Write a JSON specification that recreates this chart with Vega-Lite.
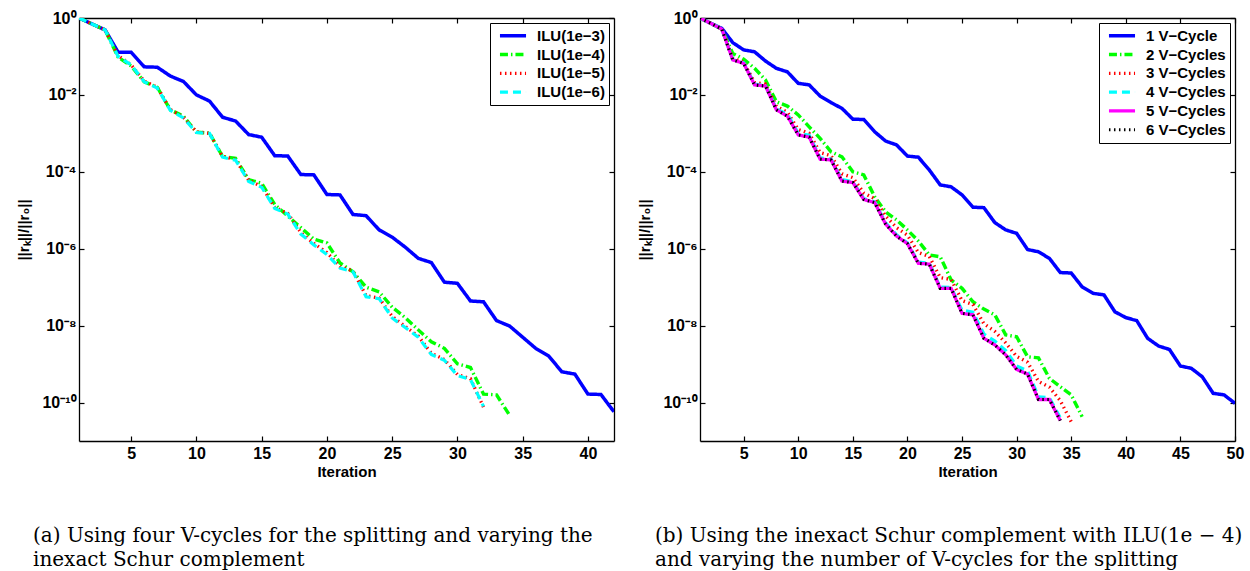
{
  "$schema": "https://vega.github.io/schema/vega-lite/v6.json",
  "background": "white",
  "autosize": {"type": "pad"},
  "padding": {"left": 16, "top": 10, "right": 5, "bottom": 5},
  "spacing": 86,
  "bounds": "flush",
  "resolve": {
    "scale": {"color": "independent", "strokeDash": "independent", "strokeWidth": "independent", "x": "independent", "y": "independent"},
    "legend": {"color": "independent", "strokeDash": "independent", "strokeWidth": "independent"}
  },
  "config": {
    "view": {"stroke": null},
    "font": "Liberation Sans",
    "axis": {
      "labelFont": "Liberation Sans", "labelFontWeight": "bold", "labelFontSize": 16, "labelColor": "black",
      "titleFont": "Liberation Sans", "titleFontWeight": "bold", "titleFontSize": 15, "titleColor": "black",
      "domainColor": "black", "domainWidth": 1.3, "tickColor": "black", "tickWidth": 1.2, "tickSize": -5,
      "grid": false, "labelFlush": false
    },
    "legend": {
      "orient": "top-right", "offset": 5, "title": null, "strokeColor": "black", "fillColor": "white",
      "padding": 4, "labelFont": "Liberation Sans", "labelFontWeight": "bold", "labelFontSize": 15,
      "labelColor": "black", "symbolType": "stroke", "symbolSize": 680, "rowPadding": 0.8, "labelOffset": 9,
      "clipHeight": 17.5, "symbolOffset": 4, "cornerRadius": 0
    },
    "title": {
      "font": "DejaVu Serif", "fontSize": 20, "fontWeight": "normal", "color": "black",
      "anchor": "start", "orient": "bottom", "frame": "group", "lineHeight": 23.5, "offset": 47
    }
  },
  "hconcat": [
    {
      "width": 535, "height": 423,
      "title": {"text": ["(a) Using four V-cycles for the splitting and varying the", "inexact Schur complement"], "dx": -46},
      "data": {"values": [
        {"series":"ILU(1e−3)","iter":1,"res":1},{"series":"ILU(1e−3)","iter":2,"res":0.70},{"series":"ILU(1e−3)","iter":3,"res":0.49},{"series":"ILU(1e−3)","iter":4,"res":0.129},{"series":"ILU(1e−3)","iter":5,"res":0.128},{"series":"ILU(1e−3)","iter":6,"res":0.0537},{"series":"ILU(1e−3)","iter":7,"res":0.0525},{"series":"ILU(1e−3)","iter":8,"res":0.0309},{"series":"ILU(1e−3)","iter":9,"res":0.0224},{"series":"ILU(1e−3)","iter":10,"res":0.0100},{"series":"ILU(1e−3)","iter":11,"res":0.00692},{"series":"ILU(1e−3)","iter":12,"res":0.00263},{"series":"ILU(1e−3)","iter":13,"res":0.00209},{"series":"ILU(1e−3)","iter":14,"res":0.000933},{"series":"ILU(1e−3)","iter":15,"res":0.000794},{"series":"ILU(1e−3)","iter":16,"res":0.000263},{"series":"ILU(1e−3)","iter":17,"res":0.000257},{"series":"ILU(1e−3)","iter":18,"res":8.51e-5},{"series":"ILU(1e−3)","iter":19,"res":8.32e-5},{"series":"ILU(1e−3)","iter":20,"res":2.57e-5},{"series":"ILU(1e−3)","iter":21,"res":2.51e-5},{"series":"ILU(1e−3)","iter":22,"res":7.76e-6},{"series":"ILU(1e−3)","iter":23,"res":7.24e-6},{"series":"ILU(1e−3)","iter":24,"res":3.09e-6},{"series":"ILU(1e−3)","iter":25,"res":2.00e-6},{"series":"ILU(1e−3)","iter":26,"res":1.10e-6},{"series":"ILU(1e−3)","iter":27,"res":5.62e-7},{"series":"ILU(1e−3)","iter":28,"res":4.37e-7},{"series":"ILU(1e−3)","iter":29,"res":1.35e-7},{"series":"ILU(1e−3)","iter":30,"res":1.26e-7},{"series":"ILU(1e−3)","iter":31,"res":4.37e-8},{"series":"ILU(1e−3)","iter":32,"res":4.17e-8},{"series":"ILU(1e−3)","iter":33,"res":1.35e-8},{"series":"ILU(1e−3)","iter":34,"res":9.77e-9},{"series":"ILU(1e−3)","iter":35,"res":5.01e-9},{"series":"ILU(1e−3)","iter":36,"res":2.57e-9},{"series":"ILU(1e−3)","iter":37,"res":1.62e-9},{"series":"ILU(1e−3)","iter":38,"res":6.31e-10},{"series":"ILU(1e−3)","iter":39,"res":5.50e-10},{"series":"ILU(1e−3)","iter":40,"res":1.66e-10},{"series":"ILU(1e−3)","iter":41,"res":1.62e-10},{"series":"ILU(1e−3)","iter":42,"res":5.75e-11},
        {"series":"ILU(1e−4)","iter":1,"res":1},{"series":"ILU(1e−4)","iter":2,"res":0.70},{"series":"ILU(1e−4)","iter":3,"res":0.49},{"series":"ILU(1e−4)","iter":4,"res":0.0955},{"series":"ILU(1e−4)","iter":5,"res":0.0562},{"series":"ILU(1e−4)","iter":6,"res":0.0219},{"series":"ILU(1e−4)","iter":7,"res":0.0158},{"series":"ILU(1e−4)","iter":8,"res":0.00407},{"series":"ILU(1e−4)","iter":9,"res":0.00282},{"series":"ILU(1e−4)","iter":10,"res":0.00107},{"series":"ILU(1e−4)","iter":11,"res":0.00102},{"series":"ILU(1e−4)","iter":12,"res":0.000251},{"series":"ILU(1e−4)","iter":13,"res":0.000224},{"series":"ILU(1e−4)","iter":14,"res":6.31e-5},{"series":"ILU(1e−4)","iter":15,"res":5.01e-5},{"series":"ILU(1e−4)","iter":16,"res":1.41e-5},{"series":"ILU(1e−4)","iter":17,"res":7.08e-6},{"series":"ILU(1e−4)","iter":18,"res":3.55e-6},{"series":"ILU(1e−4)","iter":19,"res":1.78e-6},{"series":"ILU(1e−4)","iter":20,"res":1.41e-6},{"series":"ILU(1e−4)","iter":21,"res":4.27e-7},{"series":"ILU(1e−4)","iter":22,"res":2.51e-7},{"series":"ILU(1e−4)","iter":23,"res":1.00e-7},{"series":"ILU(1e−4)","iter":24,"res":7.59e-8},{"series":"ILU(1e−4)","iter":25,"res":3.02e-8},{"series":"ILU(1e−4)","iter":26,"res":1.62e-8},{"series":"ILU(1e−4)","iter":27,"res":7.76e-9},{"series":"ILU(1e−4)","iter":28,"res":3.80e-9},{"series":"ILU(1e−4)","iter":29,"res":2.57e-9},{"series":"ILU(1e−4)","iter":30,"res":1.02e-9},{"series":"ILU(1e−4)","iter":31,"res":8.13e-10},{"series":"ILU(1e−4)","iter":32,"res":1.66e-10},{"series":"ILU(1e−4)","iter":33,"res":1.58e-10},{"series":"ILU(1e−4)","iter":34,"res":4.68e-11},
        {"series":"ILU(1e−5)","iter":1,"res":1},{"series":"ILU(1e−5)","iter":2,"res":0.70},{"series":"ILU(1e−5)","iter":3,"res":0.49},{"series":"ILU(1e−5)","iter":4,"res":0.105},{"series":"ILU(1e−5)","iter":5,"res":0.0603},{"series":"ILU(1e−5)","iter":6,"res":0.0229},{"series":"ILU(1e−5)","iter":7,"res":0.0158},{"series":"ILU(1e−5)","iter":8,"res":0.00417},{"series":"ILU(1e−5)","iter":9,"res":0.00263},{"series":"ILU(1e−5)","iter":10,"res":0.00110},{"series":"ILU(1e−5)","iter":11,"res":0.00100},{"series":"ILU(1e−5)","iter":12,"res":0.000251},{"series":"ILU(1e−5)","iter":13,"res":0.000209},{"series":"ILU(1e−5)","iter":14,"res":6.03e-5},{"series":"ILU(1e−5)","iter":15,"res":4.17e-5},{"series":"ILU(1e−5)","iter":16,"res":1.20e-5},{"series":"ILU(1e−5)","iter":17,"res":8.32e-6},{"series":"ILU(1e−5)","iter":18,"res":2.63e-6},{"series":"ILU(1e−5)","iter":19,"res":1.38e-6},{"series":"ILU(1e−5)","iter":20,"res":7.94e-7},{"series":"ILU(1e−5)","iter":21,"res":3.47e-7},{"series":"ILU(1e−5)","iter":22,"res":2.63e-7},{"series":"ILU(1e−5)","iter":23,"res":6.03e-8},{"series":"ILU(1e−5)","iter":24,"res":5.25e-8},{"series":"ILU(1e−5)","iter":25,"res":1.74e-8},{"series":"ILU(1e−5)","iter":26,"res":9.55e-9},{"series":"ILU(1e−5)","iter":27,"res":5.37e-9},{"series":"ILU(1e−5)","iter":28,"res":1.91e-9},{"series":"ILU(1e−5)","iter":29,"res":1.32e-9},{"series":"ILU(1e−5)","iter":30,"res":5.37e-10},{"series":"ILU(1e−5)","iter":31,"res":4.17e-10},{"series":"ILU(1e−5)","iter":32,"res":7.59e-11},
        {"series":"ILU(1e−6)","iter":1,"res":1},{"series":"ILU(1e−6)","iter":2,"res":0.70},{"series":"ILU(1e−6)","iter":3,"res":0.49},{"series":"ILU(1e−6)","iter":4,"res":0.100},{"series":"ILU(1e−6)","iter":5,"res":0.0603},{"series":"ILU(1e−6)","iter":6,"res":0.0219},{"series":"ILU(1e−6)","iter":7,"res":0.0151},{"series":"ILU(1e−6)","iter":8,"res":0.00398},{"series":"ILU(1e−6)","iter":9,"res":0.00251},{"series":"ILU(1e−6)","iter":10,"res":0.00105},{"series":"ILU(1e−6)","iter":11,"res":0.00100},{"series":"ILU(1e−6)","iter":12,"res":0.000240},{"series":"ILU(1e−6)","iter":13,"res":0.000200},{"series":"ILU(1e−6)","iter":14,"res":5.62e-5},{"series":"ILU(1e−6)","iter":15,"res":3.98e-5},{"series":"ILU(1e−6)","iter":16,"res":1.12e-5},{"series":"ILU(1e−6)","iter":17,"res":7.94e-6},{"series":"ILU(1e−6)","iter":18,"res":2.40e-6},{"series":"ILU(1e−6)","iter":19,"res":1.26e-6},{"series":"ILU(1e−6)","iter":20,"res":7.08e-7},{"series":"ILU(1e−6)","iter":21,"res":3.16e-7},{"series":"ILU(1e−6)","iter":22,"res":2.51e-7},{"series":"ILU(1e−6)","iter":23,"res":5.62e-8},{"series":"ILU(1e−6)","iter":24,"res":5.01e-8},{"series":"ILU(1e−6)","iter":25,"res":1.58e-8},{"series":"ILU(1e−6)","iter":26,"res":8.91e-9},{"series":"ILU(1e−6)","iter":27,"res":5.01e-9},{"series":"ILU(1e−6)","iter":28,"res":1.78e-9},{"series":"ILU(1e−6)","iter":29,"res":1.26e-9},{"series":"ILU(1e−6)","iter":30,"res":5.01e-10},{"series":"ILU(1e−6)","iter":31,"res":3.98e-10},{"series":"ILU(1e−6)","iter":32,"res":7.94e-11}
      ]},
      "layer": [
        {
          "mark": {"type": "line", "clip": true},
          "encoding": {
            "x": {"field": "iter", "type": "quantitative", "scale": {"domain": [1, 42], "nice": false, "zero": false},
                  "axis": {"orient": "bottom", "title": "Iteration", "values": [5,10,15,20,25,30,35,40], "labelPadding": 9, "titlePadding": 3}},
            "y": {"field": "res", "type": "quantitative", "scale": {"type": "log", "domain": [1e-11, 1], "nice": false},
                  "axis": {"orient": "left", "title": "||rₖ||/||r₀||", "values": [1, 0.01, 0.0001, 1e-6, 1e-8, 1e-10], "labelPadding": 8, "titlePadding": 10,
                           "labelExpr": "datum.value > 0.5 ? '10⁰' : datum.value > 5e-3 ? '10⁻²' : datum.value > 5e-5 ? '10⁻⁴' : datum.value > 5e-7 ? '10⁻⁶' : datum.value > 5e-9 ? '10⁻⁸' : '10⁻¹⁰'"}},
            "color": {"field": "series", "type": "nominal", "scale": {"domain": ["ILU(1e−3)","ILU(1e−4)","ILU(1e−5)","ILU(1e−6)"], "range": ["#0000ff","#00ff00","#ff0000","#00ffff"]}},
            "strokeDash": {"field": "series", "type": "nominal", "scale": {"domain": ["ILU(1e−3)","ILU(1e−4)","ILU(1e−5)","ILU(1e−6)"], "range": [[1,0],[8,3,1.5,3],[1.5,3.5],[8,5]]}},
            "strokeWidth": {"field": "series", "type": "nominal", "scale": {"domain": ["ILU(1e−3)","ILU(1e−4)","ILU(1e−5)","ILU(1e−6)"], "range": [3.5,3.2,1.4,3.5]}}
          }
        },
        {
          "mark": {"type": "point", "opacity": 0},
          "encoding": {
            "x": {"field": "iter", "type": "quantitative", "scale": {"domain": [1, 42], "nice": false, "zero": false},
                  "axis": {"orient": "top", "title": null, "labels": false, "values": [5,10,15,20,25,30,35,40]}},
            "y": {"field": "res", "type": "quantitative", "scale": {"type": "log", "domain": [1e-11, 1], "nice": false},
                  "axis": {"orient": "right", "title": null, "labels": false, "values": [1, 0.01, 0.0001, 1e-6, 1e-8, 1e-10]}}
          }
        }
      ],
      "resolve": {"axis": {"x": "independent", "y": "independent"}}
    },
    {
      "width": 535, "height": 423,
      "title": {"text": ["(b) Using the inexact Schur complement with ILU(1e − 4)", "and varying the number of V-cycles for the splitting"], "dx": -45},
      "data": {"values": [
        {"series":"1 V−Cycle","iter":1,"res":1},{"series":"1 V−Cycle","iter":2,"res":0.724},{"series":"1 V−Cycle","iter":3,"res":0.537},{"series":"1 V−Cycle","iter":4,"res":0.229},{"series":"1 V−Cycle","iter":5,"res":0.148},{"series":"1 V−Cycle","iter":6,"res":0.132},{"series":"1 V−Cycle","iter":7,"res":0.0759},{"series":"1 V−Cycle","iter":8,"res":0.0490},{"series":"1 V−Cycle","iter":9,"res":0.0398},{"series":"1 V−Cycle","iter":10,"res":0.0200},{"series":"1 V−Cycle","iter":11,"res":0.0182},{"series":"1 V−Cycle","iter":12,"res":0.00933},{"series":"1 V−Cycle","iter":13,"res":0.00631},{"series":"1 V−Cycle","iter":14,"res":0.00447},{"series":"1 V−Cycle","iter":15,"res":0.00234},{"series":"1 V−Cycle","iter":16,"res":0.00229},{"series":"1 V−Cycle","iter":17,"res":0.00110},{"series":"1 V−Cycle","iter":18,"res":0.000631},{"series":"1 V−Cycle","iter":19,"res":0.000501},{"series":"1 V−Cycle","iter":20,"res":0.000257},{"series":"1 V−Cycle","iter":21,"res":0.000240},{"series":"1 V−Cycle","iter":22,"res":0.000112},{"series":"1 V−Cycle","iter":23,"res":4.57e-5},{"series":"1 V−Cycle","iter":24,"res":4.07e-5},{"series":"1 V−Cycle","iter":25,"res":2.51e-5},{"series":"1 V−Cycle","iter":26,"res":1.20e-5},{"series":"1 V−Cycle","iter":27,"res":1.17e-5},{"series":"1 V−Cycle","iter":28,"res":4.79e-6},{"series":"1 V−Cycle","iter":29,"res":3.09e-6},{"series":"1 V−Cycle","iter":30,"res":2.51e-6},{"series":"1 V−Cycle","iter":31,"res":9.55e-7},{"series":"1 V−Cycle","iter":32,"res":8.32e-7},{"series":"1 V−Cycle","iter":33,"res":5.62e-7},{"series":"1 V−Cycle","iter":34,"res":2.40e-7},{"series":"1 V−Cycle","iter":35,"res":2.34e-7},{"series":"1 V−Cycle","iter":36,"res":1.02e-7},{"series":"1 V−Cycle","iter":37,"res":6.92e-8},{"series":"1 V−Cycle","iter":38,"res":6.31e-8},{"series":"1 V−Cycle","iter":39,"res":2.29e-8},{"series":"1 V−Cycle","iter":40,"res":1.62e-8},{"series":"1 V−Cycle","iter":41,"res":1.35e-8},{"series":"1 V−Cycle","iter":42,"res":4.68e-9},{"series":"1 V−Cycle","iter":43,"res":2.95e-9},{"series":"1 V−Cycle","iter":44,"res":2.40e-9},{"series":"1 V−Cycle","iter":45,"res":8.91e-10},{"series":"1 V−Cycle","iter":46,"res":7.76e-10},{"series":"1 V−Cycle","iter":47,"res":4.68e-10},{"series":"1 V−Cycle","iter":48,"res":1.74e-10},{"series":"1 V−Cycle","iter":49,"res":1.58e-10},{"series":"1 V−Cycle","iter":50,"res":9.55e-11},
        {"series":"2 V−Cycles","iter":1,"res":1},{"series":"2 V−Cycles","iter":2,"res":0.724},{"series":"2 V−Cycles","iter":3,"res":0.513},{"series":"2 V−Cycles","iter":4,"res":0.120},{"series":"2 V−Cycles","iter":5,"res":0.0851},{"series":"2 V−Cycles","iter":6,"res":0.0490},{"series":"2 V−Cycles","iter":7,"res":0.0245},{"series":"2 V−Cycles","iter":8,"res":0.00661},{"series":"2 V−Cycles","iter":9,"res":0.00513},{"series":"2 V−Cycles","iter":10,"res":0.00302},{"series":"2 V−Cycles","iter":11,"res":0.00148},{"series":"2 V−Cycles","iter":12,"res":0.000741},{"series":"2 V−Cycles","iter":13,"res":0.000331},{"series":"2 V−Cycles","iter":14,"res":0.000245},{"series":"2 V−Cycles","iter":15,"res":0.000100},{"series":"2 V−Cycles","iter":16,"res":8.32e-5},{"series":"2 V−Cycles","iter":17,"res":2.24e-5},{"series":"2 V−Cycles","iter":18,"res":9.12e-6},{"series":"2 V−Cycles","iter":19,"res":5.62e-6},{"series":"2 V−Cycles","iter":20,"res":3.09e-6},{"series":"2 V−Cycles","iter":21,"res":1.58e-6},{"series":"2 V−Cycles","iter":22,"res":6.92e-7},{"series":"2 V−Cycles","iter":23,"res":6.17e-7},{"series":"2 V−Cycles","iter":24,"res":1.55e-7},{"series":"2 V−Cycles","iter":25,"res":9.33e-8},{"series":"2 V−Cycles","iter":26,"res":4.17e-8},{"series":"2 V−Cycles","iter":27,"res":2.69e-8},{"series":"2 V−Cycles","iter":28,"res":1.91e-8},{"series":"2 V−Cycles","iter":29,"res":5.75e-9},{"series":"2 V−Cycles","iter":30,"res":5.13e-9},{"series":"2 V−Cycles","iter":31,"res":1.55e-9},{"series":"2 V−Cycles","iter":32,"res":1.45e-9},{"series":"2 V−Cycles","iter":33,"res":4.27e-10},{"series":"2 V−Cycles","iter":34,"res":2.57e-10},{"series":"2 V−Cycles","iter":35,"res":1.58e-10},{"series":"2 V−Cycles","iter":36,"res":4.27e-11},
        {"series":"3 V−Cycles","iter":1,"res":1},{"series":"3 V−Cycles","iter":2,"res":0.724},{"series":"3 V−Cycles","iter":3,"res":0.513},{"series":"3 V−Cycles","iter":4,"res":0.0891},{"series":"3 V−Cycles","iter":5,"res":0.0708},{"series":"3 V−Cycles","iter":6,"res":0.0209},{"series":"3 V−Cycles","iter":7,"res":0.0191},{"series":"3 V−Cycles","iter":8,"res":0.00501},{"series":"3 V−Cycles","iter":9,"res":0.00355},{"series":"3 V−Cycles","iter":10,"res":0.00126},{"series":"3 V−Cycles","iter":11,"res":0.00100},{"series":"3 V−Cycles","iter":12,"res":0.000316},{"series":"3 V−Cycles","iter":13,"res":0.000263},{"series":"3 V−Cycles","iter":14,"res":8.91e-5},{"series":"3 V−Cycles","iter":15,"res":7.08e-5},{"series":"3 V−Cycles","iter":16,"res":2.82e-5},{"series":"3 V−Cycles","iter":17,"res":2.00e-5},{"series":"3 V−Cycles","iter":18,"res":7.08e-6},{"series":"3 V−Cycles","iter":19,"res":3.55e-6},{"series":"3 V−Cycles","iter":20,"res":2.24e-6},{"series":"3 V−Cycles","iter":21,"res":7.94e-7},{"series":"3 V−Cycles","iter":22,"res":6.31e-7},{"series":"3 V−Cycles","iter":23,"res":1.78e-7},{"series":"3 V−Cycles","iter":24,"res":1.58e-7},{"series":"3 V−Cycles","iter":25,"res":4.47e-8},{"series":"3 V−Cycles","iter":26,"res":3.55e-8},{"series":"3 V−Cycles","iter":27,"res":1.12e-8},{"series":"3 V−Cycles","iter":28,"res":7.08e-9},{"series":"3 V−Cycles","iter":29,"res":3.55e-9},{"series":"3 V−Cycles","iter":30,"res":1.58e-9},{"series":"3 V−Cycles","iter":31,"res":1.12e-9},{"series":"3 V−Cycles","iter":32,"res":3.55e-10},{"series":"3 V−Cycles","iter":33,"res":2.51e-10},{"series":"3 V−Cycles","iter":34,"res":1.12e-10},{"series":"3 V−Cycles","iter":35,"res":3.16e-11},
        {"series":"4 V−Cycles","iter":1,"res":1},{"series":"4 V−Cycles","iter":2,"res":0.724},{"series":"4 V−Cycles","iter":3,"res":0.513},{"series":"4 V−Cycles","iter":4,"res":0.0832},{"series":"4 V−Cycles","iter":5,"res":0.0676},{"series":"4 V−Cycles","iter":6,"res":0.0191},{"series":"4 V−Cycles","iter":7,"res":0.0174},{"series":"4 V−Cycles","iter":8,"res":0.00427},{"series":"4 V−Cycles","iter":9,"res":0.00316},{"series":"4 V−Cycles","iter":10,"res":0.00100},{"series":"4 V−Cycles","iter":11,"res":0.000891},{"series":"4 V−Cycles","iter":12,"res":0.000229},{"series":"4 V−Cycles","iter":13,"res":0.000214},{"series":"4 V−Cycles","iter":14,"res":6.31e-5},{"series":"4 V−Cycles","iter":15,"res":5.50e-5},{"series":"4 V−Cycles","iter":16,"res":2.00e-5},{"series":"4 V−Cycles","iter":17,"res":1.66e-5},{"series":"4 V−Cycles","iter":18,"res":4.68e-6},{"series":"4 V−Cycles","iter":19,"res":2.29e-6},{"series":"4 V−Cycles","iter":20,"res":1.41e-6},{"series":"4 V−Cycles","iter":21,"res":4.47e-7},{"series":"4 V−Cycles","iter":22,"res":4.17e-7},{"series":"4 V−Cycles","iter":23,"res":1.00e-7},{"series":"4 V−Cycles","iter":24,"res":9.77e-8},{"series":"4 V−Cycles","iter":25,"res":2.51e-8},{"series":"4 V−Cycles","iter":26,"res":2.24e-8},{"series":"4 V−Cycles","iter":27,"res":6.03e-9},{"series":"4 V−Cycles","iter":28,"res":3.98e-9},{"series":"4 V−Cycles","iter":29,"res":2.24e-9},{"series":"4 V−Cycles","iter":30,"res":8.91e-10},{"series":"4 V−Cycles","iter":31,"res":6.61e-10},{"series":"4 V−Cycles","iter":32,"res":1.41e-10},{"series":"4 V−Cycles","iter":33,"res":1.32e-10},{"series":"4 V−Cycles","iter":34,"res":3.98e-11},
        {"series":"5 V−Cycles","iter":1,"res":1},{"series":"5 V−Cycles","iter":2,"res":0.724},{"series":"5 V−Cycles","iter":3,"res":0.513},{"series":"5 V−Cycles","iter":4,"res":0.0813},{"series":"5 V−Cycles","iter":5,"res":0.0661},{"series":"5 V−Cycles","iter":6,"res":0.0182},{"series":"5 V−Cycles","iter":7,"res":0.0170},{"series":"5 V−Cycles","iter":8,"res":0.00407},{"series":"5 V−Cycles","iter":9,"res":0.00282},{"series":"5 V−Cycles","iter":10,"res":0.000912},{"series":"5 V−Cycles","iter":11,"res":0.000794},{"series":"5 V−Cycles","iter":12,"res":0.000214},{"series":"5 V−Cycles","iter":13,"res":0.000204},{"series":"5 V−Cycles","iter":14,"res":5.75e-5},{"series":"5 V−Cycles","iter":15,"res":5.25e-5},{"series":"5 V−Cycles","iter":16,"res":1.91e-5},{"series":"5 V−Cycles","iter":17,"res":1.58e-5},{"series":"5 V−Cycles","iter":18,"res":4.37e-6},{"series":"5 V−Cycles","iter":19,"res":2.14e-6},{"series":"5 V−Cycles","iter":20,"res":1.35e-6},{"series":"5 V−Cycles","iter":21,"res":4.17e-7},{"series":"5 V−Cycles","iter":22,"res":3.98e-7},{"series":"5 V−Cycles","iter":23,"res":9.33e-8},{"series":"5 V−Cycles","iter":24,"res":9.33e-8},{"series":"5 V−Cycles","iter":25,"res":2.09e-8},{"series":"5 V−Cycles","iter":26,"res":1.91e-8},{"series":"5 V−Cycles","iter":27,"res":4.68e-9},{"series":"5 V−Cycles","iter":28,"res":3.16e-9},{"series":"5 V−Cycles","iter":29,"res":1.74e-9},{"series":"5 V−Cycles","iter":30,"res":7.24e-10},{"series":"5 V−Cycles","iter":31,"res":5.50e-10},{"series":"5 V−Cycles","iter":32,"res":1.20e-10},{"series":"5 V−Cycles","iter":33,"res":1.20e-10},{"series":"5 V−Cycles","iter":34,"res":3.39e-11},
        {"series":"6 V−Cycles","iter":1,"res":1},{"series":"6 V−Cycles","iter":2,"res":0.724},{"series":"6 V−Cycles","iter":3,"res":0.513},{"series":"6 V−Cycles","iter":4,"res":0.0813},{"series":"6 V−Cycles","iter":5,"res":0.0661},{"series":"6 V−Cycles","iter":6,"res":0.0182},{"series":"6 V−Cycles","iter":7,"res":0.0170},{"series":"6 V−Cycles","iter":8,"res":0.00407},{"series":"6 V−Cycles","iter":9,"res":0.00282},{"series":"6 V−Cycles","iter":10,"res":0.000912},{"series":"6 V−Cycles","iter":11,"res":0.000794},{"series":"6 V−Cycles","iter":12,"res":0.000214},{"series":"6 V−Cycles","iter":13,"res":0.000204},{"series":"6 V−Cycles","iter":14,"res":5.75e-5},{"series":"6 V−Cycles","iter":15,"res":5.25e-5},{"series":"6 V−Cycles","iter":16,"res":1.91e-5},{"series":"6 V−Cycles","iter":17,"res":1.58e-5},{"series":"6 V−Cycles","iter":18,"res":4.37e-6},{"series":"6 V−Cycles","iter":19,"res":2.14e-6},{"series":"6 V−Cycles","iter":20,"res":1.35e-6},{"series":"6 V−Cycles","iter":21,"res":4.17e-7},{"series":"6 V−Cycles","iter":22,"res":3.98e-7},{"series":"6 V−Cycles","iter":23,"res":9.33e-8},{"series":"6 V−Cycles","iter":24,"res":9.33e-8},{"series":"6 V−Cycles","iter":25,"res":2.09e-8},{"series":"6 V−Cycles","iter":26,"res":1.91e-8},{"series":"6 V−Cycles","iter":27,"res":4.68e-9},{"series":"6 V−Cycles","iter":28,"res":3.16e-9},{"series":"6 V−Cycles","iter":29,"res":1.74e-9},{"series":"6 V−Cycles","iter":30,"res":7.24e-10},{"series":"6 V−Cycles","iter":31,"res":5.50e-10},{"series":"6 V−Cycles","iter":32,"res":1.20e-10},{"series":"6 V−Cycles","iter":33,"res":1.20e-10},{"series":"6 V−Cycles","iter":34,"res":3.39e-11}
      ]},
      "layer": [
        {
          "mark": {"type": "line", "clip": true},
          "encoding": {
            "x": {"field": "iter", "type": "quantitative", "scale": {"domain": [1, 50], "nice": false, "zero": false},
                  "axis": {"orient": "bottom", "title": "Iteration", "values": [5,10,15,20,25,30,35,40,45,50], "labelPadding": 9, "titlePadding": 3}},
            "y": {"field": "res", "type": "quantitative", "scale": {"type": "log", "domain": [1e-11, 1], "nice": false},
                  "axis": {"orient": "left", "title": "||rₖ||/||r₀||", "values": [1, 0.01, 0.0001, 1e-6, 1e-8, 1e-10], "labelPadding": 8, "titlePadding": 10,
                           "labelExpr": "datum.value > 0.5 ? '10⁰' : datum.value > 5e-3 ? '10⁻²' : datum.value > 5e-5 ? '10⁻⁴' : datum.value > 5e-7 ? '10⁻⁶' : datum.value > 5e-9 ? '10⁻⁸' : '10⁻¹⁰'"}},
            "color": {"field": "series", "type": "nominal", "scale": {"domain": ["1 V−Cycle","2 V−Cycles","3 V−Cycles","4 V−Cycles","5 V−Cycles","6 V−Cycles"], "range": ["#0000ff","#00ff00","#ff0000","#00ffff","#ff00ff","#000000"]}},
            "strokeDash": {"field": "series", "type": "nominal", "scale": {"domain": ["1 V−Cycle","2 V−Cycles","3 V−Cycles","4 V−Cycles","5 V−Cycles","6 V−Cycles"], "range": [[1,0],[8,3,1.5,3],[1.5,3.5],[8,5],[1,0],[1.5,3.5]]}},
            "strokeWidth": {"field": "series", "type": "nominal", "scale": {"domain": ["1 V−Cycle","2 V−Cycles","3 V−Cycles","4 V−Cycles","5 V−Cycles","6 V−Cycles"], "range": [3.5,3.2,1.4,3.5,3.5,1.4]}}
          }
        },
        {
          "mark": {"type": "point", "opacity": 0},
          "encoding": {
            "x": {"field": "iter", "type": "quantitative", "scale": {"domain": [1, 50], "nice": false, "zero": false},
                  "axis": {"orient": "top", "title": null, "labels": false, "values": [5,10,15,20,25,30,35,40,45,50]}},
            "y": {"field": "res", "type": "quantitative", "scale": {"type": "log", "domain": [1e-11, 1], "nice": false},
                  "axis": {"orient": "right", "title": null, "labels": false, "values": [1, 0.01, 0.0001, 1e-6, 1e-8, 1e-10]}}
          }
        }
      ],
      "resolve": {"axis": {"x": "independent", "y": "independent"}}
    }
  ]
}
